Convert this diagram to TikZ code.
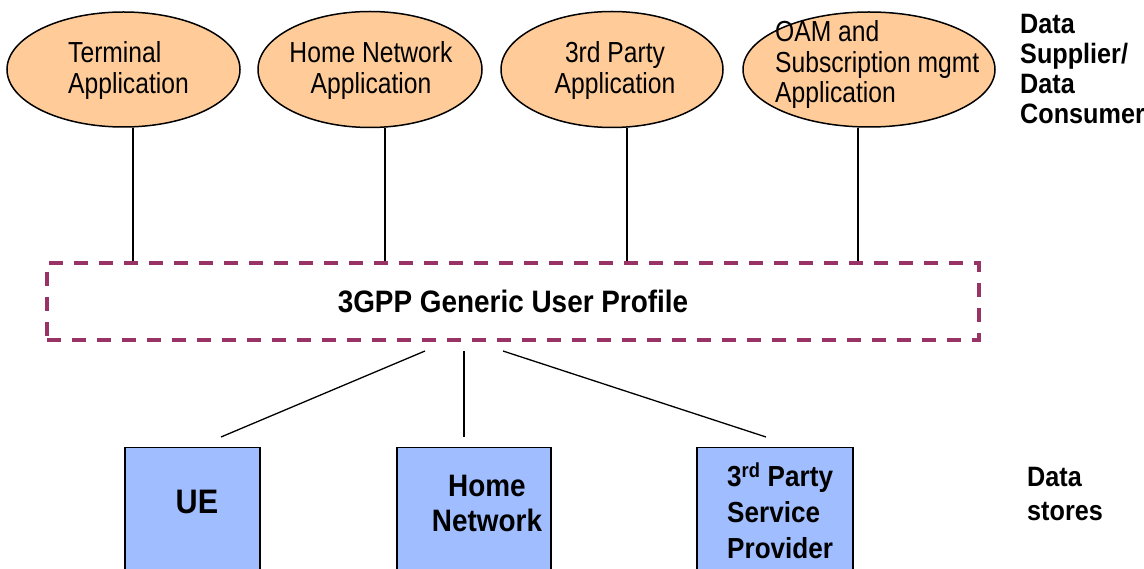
\documentclass[tikz,border=0pt]{standalone}
\usepackage{fontspec}
\setmainfont{Liberation Sans}
\newfontfamily\appfont[FakeStretch=0.85]{Liberation Sans}
\newfontfamily\labfont[FakeStretch=0.9]{Liberation Sans}
\usetikzlibrary{shapes.geometric}
\definecolor{appfill}{HTML}{FFCC99}
\definecolor{storefill}{HTML}{A0BEFF}
\definecolor{gupline}{HTML}{993366}

\begin{document}
\begin{tikzpicture}[x=1pt,y=-1pt,
  app/.style={ellipse, draw, line width=1.5pt, fill=appfill, inner sep=0pt},
  apptxt/.style={inner sep=0pt, font=\appfont\fontsize{29}{30.5}\selectfont},
  store/.style={draw, line width=1.3pt, fill=storefill, anchor=north, minimum height=150pt, inner sep=0pt},
  labtxt/.style={inner sep=0pt, align=left, font=\labfont\bfseries\fontsize{28}{#1}\selectfont},
  link/.style={line width=1.3pt}]
\useasboundingbox (0,0) rectangle (1144,569);
\clip (0,0) rectangle (1144,569);

% applications
\node[app, minimum width=233pt, minimum height=115pt] (term) at (123.5,69.5) {};
\node[app, minimum width=224pt, minimum height=116pt] (home) at (370,69.5) {};
\node[app, minimum width=222pt, minimum height=116pt] (third) at (612,69.5) {};
\node[app, minimum width=252pt, minimum height=115pt] (oam) at (869,69.5) {};
\node[apptxt, align=left, anchor=west] (termtxt) at (68,70.5) {Terminal\\Application};
\node[apptxt, align=center] (hometxt) at (371,70.5) {Home Network\\Application};
\node[apptxt, align=center] (thirdtxt) at (615,70.5) {3rd Party\\Application};
\node[apptxt, align=left, anchor=west] (oamtxt) at (775,65) {OAM and\\Subscription mgmt\\Application};

% generic user profile
\node[draw=gupline, line width=4pt, dash pattern=on 14pt off 11pt, minimum width=932pt, minimum height=77pt,
  font=\labfont\bfseries\fontsize{31}{34}\selectfont] (gup) at (513,301.5) {3GPP Generic User Profile};

\draw[link] ([xshift=9.5pt]term.south) -- ([xshift=9.5pt]term.south |- gup.north);
\draw[link] ([xshift=15pt]home.south) -- ([xshift=15pt]home.south |- gup.north);
\draw[link] ([xshift=15pt]third.south) -- ([xshift=15pt]third.south |- gup.north);
\draw[link] ([xshift=-11pt]oam.south) -- ([xshift=-11pt]oam.south |- gup.north);

% data stores
\node[store, minimum width=135pt] (uebox) at (192.5,447) {};
\node[store, minimum width=154pt] (homebox) at (474,447) {};
\node[store, minimum width=156pt] (tpbox) at (775,447) {};
\node[inner sep=0pt, font=\labfont\bfseries\fontsize{34}{36}\selectfont] (uetxt) at (197,502) {UE};
\node[inner sep=0pt, align=center, font=\labfont\bfseries\fontsize{31}{35}\selectfont] (homestxt) at (487,503.5) {Home\\Network};
\node[labtxt=36, font=\labfont\bfseries\fontsize{29}{36}\selectfont, anchor=west] (tptxt) at (727,511) {3\textsuperscript{rd} Party\\Service\\Provider};

\draw[link] ([xshift=-88pt,yshift=-9pt]gup.south) -- ([xshift=28.5pt,yshift=10pt]uebox.north);
\draw[link] ([xshift=-49pt,yshift=-9pt]gup.south) -- ([xshift=-10pt,yshift=10pt]homebox.north);
\draw[link] ([xshift=-10pt,yshift=-9pt]gup.south) -- ([xshift=-9pt,yshift=10pt]tpbox.north);

% side labels
\node[labtxt=30, anchor=west] (suplab) at (1020,69) {Data\\Supplier/\\Data\\Consumer};
\node[labtxt=34, anchor=west] (storelab) at (1027,494.5) {Data\\stores};
\end{tikzpicture}
\end{document}
